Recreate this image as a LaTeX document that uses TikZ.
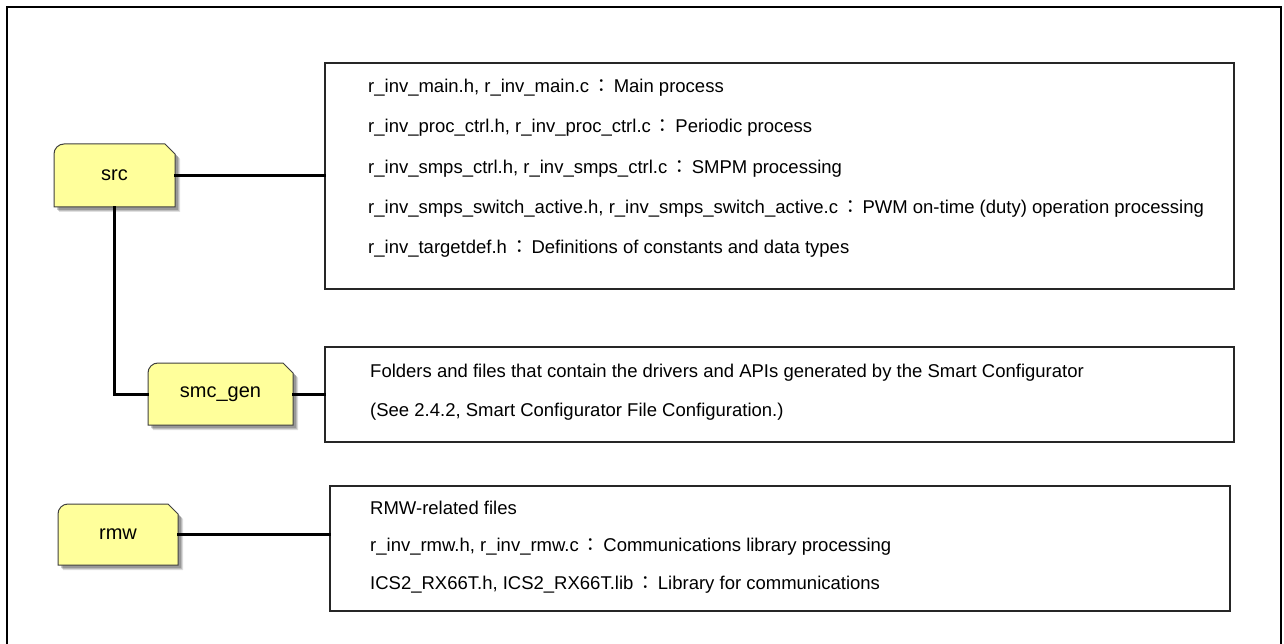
\documentclass[tikz,border=0pt]{standalone}
\usepackage{fontspec}
\setmainfont{Liberation Sans}
\newfontfamily\cjkf{Noto Sans CJK JP}
\newcommand{\fwc}{\hspace{3pt}{\cjkf ：}\hspace{3pt}}
\begin{document}
\begin{tikzpicture}[x=1pt,y=-1pt,
  conn/.style={line width=3pt,line cap=rect},
  infobox/.style={draw=black!85,line width=1.2pt,fill=white,inner sep=0pt},
  txt/.style={anchor=base west,inner sep=0pt,font=\fontsize{18.5}{22}\selectfont},
  flabel/.style={inner sep=0pt,font=\fontsize{20}{24}\selectfont}]
\useasboundingbox (0,0) rectangle (1284,644);
\clip (0,0) rectangle (1284,644);
\fill[white] (0,0) rectangle (1284,644);
% outer frame
\draw[line width=2.5pt] (7,660) -- (7,7) -- (1281,7) -- (1281,660);
\definecolor{fyel}{RGB}{255,255,155}
% folder macro: name, x0, y0, x1, y1, label
\newcommand{\folderbox}[6]{%
  \foreach \s/\o in {5/0.12,4/0.15,3/0.2}{%
    \fill[black,opacity=\o] (#2+\s,#5+\s) -- (#2+\s,#3+10+\s) arc (180:270:10) -- (#4-10+\s,#3+\s) -- (#4+\s,#3+10+\s) -- (#4+\s,#5+\s) -- cycle;}
  \draw[fill=fyel,draw=black!75,line width=1pt] (#2,#5) -- (#2,#3+10) arc (180:270:10) -- (#4-10,#3) -- (#4,#3+10) -- (#4,#5) -- cycle;
  \node[flabel,minimum width=#4-#2,minimum height=#5-#3] (#1) at ({(#2+#4)/2},{(#3+#5)/2}) {#6};}
% boxes
\node[infobox,minimum width=909,minimum height=226] (b1) at (779.5,176) {};
\node[infobox,minimum width=909,minimum height=95] (b2) at (779.5,394.5) {};
\node[infobox,minimum width=900,minimum height=125] (b3) at (780,548.5) {};
% folders
\folderbox{src}{54}{144}{175}{207}{src}
\folderbox{smc}{148}{363}{293}{425}{smc\_gen}
\folderbox{rmw}{58}{504}{178}{565}{rmw}
% connectors
\draw[conn] (src.east) -- (src.east -| b1.west);
\draw[conn] (src.south) -- (src.south |- smc.west) -- (smc.west);
\draw[conn] (smc.east) -- (smc.east -| b2.west);
\draw[conn] (rmw.east) -- (rmw.east -| b3.west);
% texts box1
\node[txt] (t11) at (368,93) {r\_inv\_main.h, r\_inv\_main.c\fwc Main process};
\node[txt] (t12) at (368,133) {r\_inv\_proc\_ctrl.h, r\_inv\_proc\_ctrl.c\fwc Periodic process};
\node[txt] (t13) at (368,174) {r\_inv\_smps\_ctrl.h, r\_inv\_smps\_ctrl.c\fwc SMPM processing};
\node[txt] (t14) at (368,214) {r\_inv\_smps\_switch\_active.h, r\_inv\_smps\_switch\_active.c\fwc PWM on-time (duty) operation processing};
\node[txt] (t15) at (368,254) {r\_inv\_targetdef.h\fwc Definitions of constants and data types};
% box2
\node[txt] (t21) at (370,377) {Folders and files that contain the drivers and APIs generated by the Smart Configurator};
\node[txt] (t22) at (370,416) {(See 2.4.2, Smart Configurator File Configuration.)};
% box3
\node[txt] (t31) at (370,514) {RMW-related files};
\node[txt] (t32) at (370,551) {r\_inv\_rmw.h, r\_inv\_rmw.c\fwc Communications library processing};
\node[txt] (t33) at (370,589) {ICS2\_RX66T.h, ICS2\_RX66T.lib\fwc Library for communications};
\end{tikzpicture}
\end{document}
